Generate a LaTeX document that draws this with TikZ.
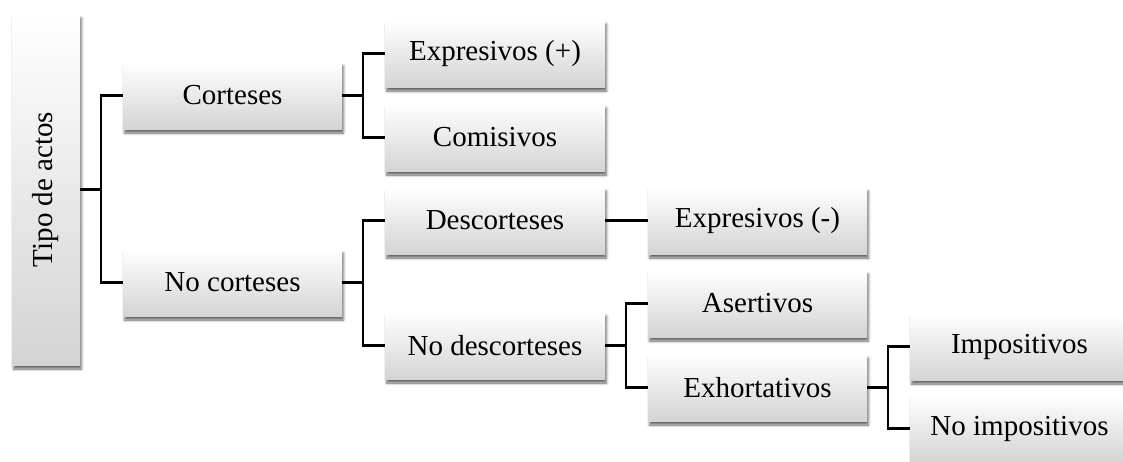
\documentclass[tikz,border=0pt]{standalone}
\usepackage{fontspec}
\setmainfont{Liberation Serif}
\usetikzlibrary{shadows.blur}

\tikzset{
  actbox/.style={
    rectangle, draw=none, inner sep=0pt,
    minimum width=219pt, minimum height=67pt,
    top color=white, middle color=black!3, bottom color=black!17,
    blur shadow={shadow xshift=1.5pt, shadow yshift=-4pt,
                 shadow blur radius=2.5pt, shadow opacity=60},
    font=\fontsize{29pt}{34pt}\selectfont
  },
  rootbox/.style={actbox, minimum width=68pt, minimum height=351pt},
  link/.style={draw=black, line width=2.3pt}
}

\begin{document}
\begin{tikzpicture}[x=1pt,y=-1pt]
  \useasboundingbox (0,0) rectangle (1123,461);
  \clip (0,0) rectangle (1123,461);

  % root
  \node[rootbox] (tipo) at (46,189.5) {\rotatebox{90}{Tipo de actos}};

  % first level
  \node[actbox] (cort)   at (232.5,95.5)  {Corteses};
  \node[actbox] (nocort) at (232.5,282.5) {No corteses};

  % second level
  \node[actbox, minimum width=220pt] (expp)   at (495,53.5)  {Expresivos (+)};
  \node[actbox, minimum width=220pt] (comi)   at (495,137.5) {Comisivos};
  \node[actbox, minimum width=220pt] (desc)   at (495,220.5) {Descorteses};
  \node[actbox, minimum width=220pt] (nodesc) at (495,345.5) {No descorteses};

  % third level
  \node[actbox] (expm) at (757.5,220.5) {Expresivos (-)};
  \node[actbox] (aser) at (757.5,303.5) {Asertivos};
  \node[actbox] (exh)  at (757.5,387.5) {Exhortativos};

  % fourth level
  \node[actbox] (imp)   at (1019.5,346.5) {Impositivos};
  \node[actbox] (noimp) at (1019.5,428.5) {No impositivos};

  % connectors
  \draw[link] (tipo.east) -- ++(21,0) |- (cort.west);
  \draw[link] (tipo.east) -- ++(21,0) |- (nocort.west);

  \draw[link] (cort.east) -- ++(21,0) |- (expp.west);
  \draw[link] (cort.east) -- ++(21,0) |- (comi.west);

  \draw[link] (nocort.east) -- ++(21,0) |- (desc.west);
  \draw[link] (nocort.east) -- ++(21,0) |- (nodesc.west);

  \draw[link] (desc.east) -- (expm.west);

  \draw[link] (nodesc.east) -- ++(21,0) |- (aser.west);
  \draw[link] (nodesc.east) -- ++(21,0) |- (exh.west);

  \draw[link] (exh.east) -- ++(21,0) |- (imp.west);
  \draw[link] (exh.east) -- ++(21,0) |- (noimp.west);
\end{tikzpicture}
\end{document}
